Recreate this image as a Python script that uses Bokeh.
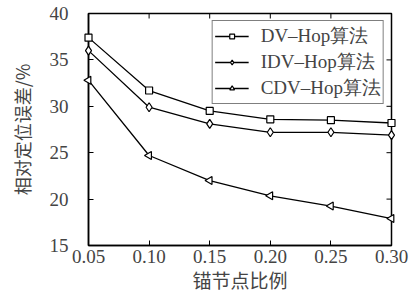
import math
from bokeh.plotting import figure
from bokeh.models import FixedTicker, Range1d, Legend, LegendItem
from bokeh.embed import file_html
from bokeh.resources import INLINE

x_vals = [0.05, 0.10, 0.15, 0.20, 0.25, 0.30]
dv_hop = [37.4, 31.7, 29.5, 28.6, 28.5, 28.2]
idv_hop = [36.0, 29.9, 28.1, 27.2, 27.2, 26.9]
cdv_hop = [32.8, 24.7, 22.0, 20.35, 19.25, 17.9]
series_names = ["DV\u2013Hop算法", "IDV\u2013Hop算法", "CDV\u2013Hop算法"]
x_ticks = [0.05, 0.10, 0.15, 0.20, 0.25, 0.30]
x_tick_labels = ["0.05", "0.10", "0.15", "0.20", "0.25", "0.30"]
y_ticks = [15, 20, 25, 30, 35, 40]
x_label = "锚节点比例"
y_label = "相对定位误差/%"

SERIF = "'Liberation Serif'"
CJK = "'Noto Sans CJK SC'"

p = figure(width=412, height=295, output_backend="svg", toolbar_location=None,
           x_range=Range1d(x_ticks[0], x_ticks[-1]), y_range=Range1d(y_ticks[0], y_ticks[-1]),
           min_border_left=88, min_border_right=21, min_border_top=13, min_border_bottom=10)
p.background_fill_color = "white"
p.border_fill_color = "white"
p.grid.visible = False
p.outline_line_color = "black"
p.outline_line_width = 1.5

for ax in (p.xaxis[0], p.yaxis[0]):
    ax.major_tick_in = 5
    ax.major_tick_out = 0
    ax.minor_tick_line_color = None
    ax.axis_line_color = "black"
    ax.axis_line_width = 1.5
    ax.major_label_text_font = SERIF
    ax.major_label_text_font_size = "19px"
    ax.axis_label_text_font = CJK
    ax.axis_label_text_font_size = "18px"
    ax.axis_label_text_font_style = "normal"

p.xaxis[0].ticker = FixedTicker(ticks=x_ticks)
p.xaxis[0].major_label_overrides = {t: l for t, l in zip(x_ticks, x_tick_labels)}
p.xaxis[0].axis_label = x_label
p.xaxis[0].axis_label_text_font_size = "19px"
p.xaxis[0].major_label_standoff = 4
p.xaxis[0].axis_label_standoff = 0
p.yaxis[0].ticker = FixedTicker(ticks=y_ticks)
p.yaxis[0].axis_label = y_label
p.yaxis[0].major_label_standoff = 20
p.yaxis[0].axis_label_standoff = 12

# mirrored inner ticks on top and right edges
p.ray(x=x_ticks, y=[y_ticks[-1]] * len(x_ticks), length=5, length_units="screen",
      angle=-math.pi / 2, line_color="black", line_width=1)
p.ray(x=[x_ticks[-1]] * len(y_ticks), y=y_ticks, length=5, length_units="screen",
      angle=math.pi, line_color="black", line_width=1)

r1 = p.line(x_vals, dv_hop, line_color="black", line_width=1.3)
m1 = p.scatter(x_vals, dv_hop, marker="square", size=7, fill_color="white", line_color="black", line_width=1.2)
r2 = p.line(x_vals, idv_hop, line_color="black", line_width=1.3)
m2 = p.scatter(x_vals, idv_hop, marker="diamond", size=9, fill_color="white", line_color="black", line_width=1.2)
r3 = p.line(x_vals, cdv_hop, line_color="black", line_width=1.3)
m3 = p.scatter(x_vals, cdv_hop, marker="triangle", angle=math.pi / 2, size=8, fill_color="white", line_color="black", line_width=1.2)
for r in (r1, m1, r2, m2, r3, m3):
    r.level = "overlay"

legend = Legend(items=[LegendItem(label=series_names[0], renderers=[r1, m1]),
                       LegendItem(label=series_names[1], renderers=[r2, m2]),
                       LegendItem(label=series_names[2], renderers=[r3, m3])],
                location="top_right")
legend.label_text_font = SERIF
legend.label_text_font_size = "19px"
legend.border_line_color = "black"
legend.border_line_width = 1.2
legend.background_fill_alpha = 1
legend.glyph_width = 34
legend.glyph_height = 12
legend.label_height = 18
legend.spacing = 0
legend.padding = 2
legend.margin = 7
legend.label_standoff = 12
p.add_layout(legend)

open("out.html", "w").write(file_html(p, INLINE))
